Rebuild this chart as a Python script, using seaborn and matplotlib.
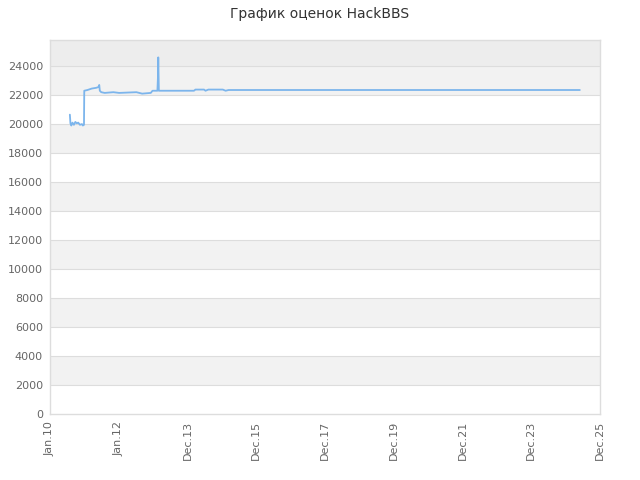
import numpy as np
import pandas as pd
import matplotlib
matplotlib.use("Agg")
import matplotlib.pyplot as plt
import seaborn as sns

# месяцы с января 2010 и оценки
months = [6.9, 7.1, 7.4, 7.8, 8.3, 8.8, 9.3, 9.8, 10.4, 11.1, 11.4, 11.8,
          11.9, 13.0, 14.5, 16.0, 16.8, 17.1, 17.3, 17.8, 19.0, 22.0, 24.0,
          30.0, 32.0, 35.0, 35.6, 37.3, 37.5, 37.6, 37.8, 45.0, 50.0, 50.5,
          53.5, 54.0, 55.0, 60.0, 61.0, 62.0, 100.0, 140.0, 184.0]
scores = [20650, 20050, 19900, 20100, 19950, 20150, 20050, 20100, 19950, 20000, 19900, 19950,
          22300, 22350, 22450, 22500, 22550, 22700, 22300, 22200, 22150, 22200, 22150,
          22200, 22100, 22150, 22300, 22300, 23300, 24600, 22300, 22300, 22300, 22380,
          22380, 22300, 22380, 22380, 22300, 22350, 22350, 22350, 22350]

tick_labels = ["Jan.10", "Jan.12", "Dec.13", "Dec.15", "Dec.17",
               "Dec.19", "Dec.21", "Dec.23", "Dec.25"]
x_max = 191
y_max = 25800

df = pd.DataFrame({"month": months, "score": scores})

sns.set_style("white")
fig = plt.figure(figsize=(6.4, 4.8), dpi=100)
ax = fig.add_axes([50 / 640, 66 / 480, 550 / 640, 374 / 480])

# полосы фона
for y0 in range(2000, 24000, 4000):
    ax.axhspan(y0, y0 + 2000, color="#f2f2f2", zorder=0, lw=0)
ax.axhspan(24000, y_max, color="#ededed", zorder=0, lw=0)
for y in range(2000, 26000, 2000):
    ax.axhline(y, color="#dddddd", lw=0.8, zorder=1)

sns.lineplot(data=df, x="month", y="score", ax=ax, color="#7cb5ec",
             lw=1.3, zorder=3, estimator=None)

ax.set_xlim(0, x_max)
ax.set_ylim(0, y_max)
ax.set_xticks(np.linspace(0, x_max, len(tick_labels)))
ax.set_xticklabels(tick_labels, rotation=90, fontsize=8, color="#666666")
ax.set_yticks(range(0, 26000, 2000))
ax.set_yticklabels([str(v) for v in range(0, 26000, 2000)], fontsize=8, color="#666666")
ax.tick_params(length=0, pad=5)
ax.set_xlabel("")
ax.set_ylabel("")
for s in ax.spines.values():
    s.set_color("#dddddd")
    s.set_linewidth(1)

fig.suptitle("График оценок HackBBS", y=0.985, fontsize=10, color="#333333")
fig.savefig("out.png", dpi=100)
